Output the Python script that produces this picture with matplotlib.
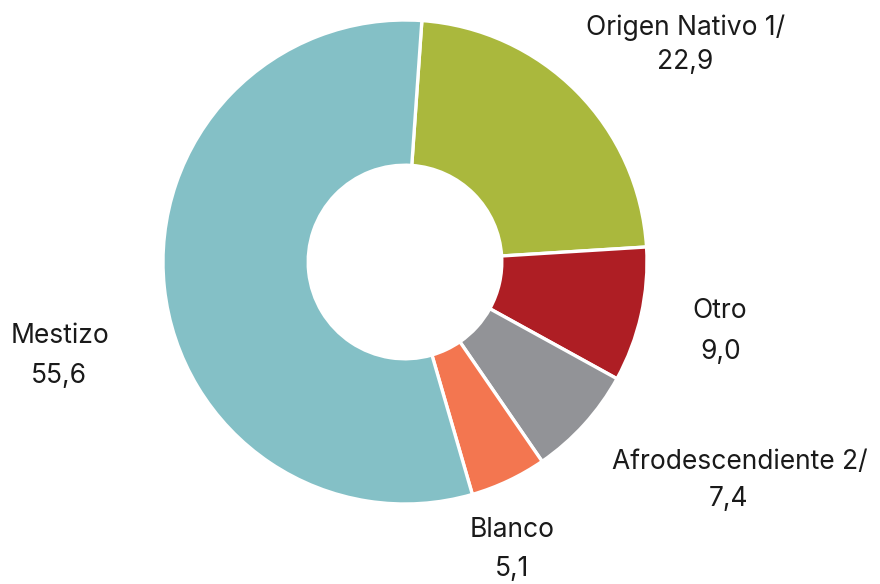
import matplotlib.pyplot as plt

# data
categories = ["Origen Nativo 1/", "Otro", "Afrodescendiente 2/", "Blanco", "Mestizo"]
values = [22.9, 9.0, 7.4, 5.1, 55.6]
value_labels = ["22,9", "9,0", "7,4", "5,1", "55,6"]
colors = ["#AAB83D", "#AE1E24", "#929397", "#F37650", "#84C0C6"]

# label positions in pixels: (name x, name y, value x, value y)
label_pos = [(686, 28, 685, 62), (720, 311, 721, 352), (740, 462, 728, 499),
             (512, 530, 512, 569), (60, 336, 59, 376)]

W, H = 880, 584
cx, cy, R = 405, 262, 242

plt.rcParams['font.family'] = ['Inter', 'DejaVu Sans']

fig = plt.figure(figsize=(W / 100, H / 100), dpi=100)
ax = fig.add_axes([0, 0, 1, 1])

ax.pie(values, colors=colors, startangle=86, counterclock=False,
       radius=1.0, wedgeprops={'width': 0.6, 'edgecolor': 'white', 'linewidth': 2.4})

ax.set_xlim(-cx / R, (W - cx) / R)
ax.set_ylim(-(H - cy) / R, cy / R)
ax.set_aspect('equal')
ax.axis('off')

def to_data(px, py):
    return (px - cx) / R, (cy - py) / R

for name, val, (nx, ny, vx, vy) in zip(categories, value_labels, label_pos):
    x, y = to_data(nx, ny)
    ax.text(x, y, name, ha='center', va='center', fontsize=19, color='#1a1a1a')
    x, y = to_data(vx, vy)
    ax.text(x, y, val, ha='center', va='center', fontsize=19, color='#1a1a1a')

fig.savefig('out.png', dpi=100)
